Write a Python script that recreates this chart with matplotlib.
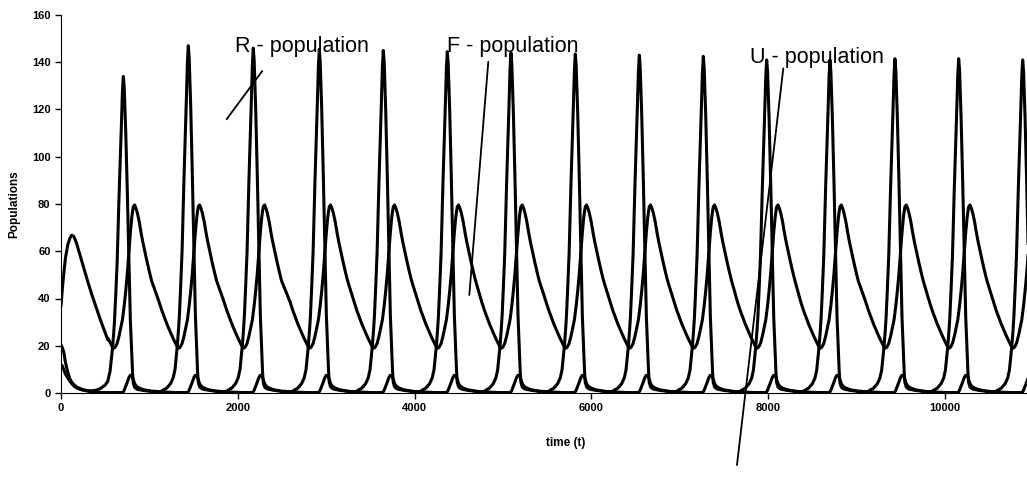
import matplotlib.pyplot as plt
import numpy as np


plt.rc('font', family=['Liberation Sans', 'DejaVu Sans'])

# start of the run, before the first regular cycle (time, value)
t_start = [0, 15, 30, 50, 75, 100, 121, 145, 175, 210, 250, 300, 350, 400, 450, 500, 530]
r_start = [20.3, 19.2, 17.5, 13, 9, 6, 4.6, 3.6, 2.6, 2.0, 1.4, 1.0, 0.9, 1.2, 2.0, 3.4, 5.0]
f_start = [37, 44, 50, 57, 62.5, 65.5, 66.8, 66.3, 63.5, 59, 54, 47.5, 41.5, 36, 30.5, 25.5, 22.5]
u_start = [12, 11.5, 10, 8, 6.5, 5, 4, 3, 2.2, 1.6, 1.2, 0.8, 0.5, 0.35, 0.25, 0.2, 0.2]

# one regular cycle, time relative to the R peak
cycle_dt = [-330, -300, -240, -200, -170, -150, -135, -124, -110, -100, -86, -70, -49, -35,
            -23, -10, 0, 10, 27, 45, 58, 68, 80, 95, 105, 113, 128, 145, 160, 180, 200,
            220, 240, 272, 300, 320]
r_cycle = [0.5, 0.8, 2.2, 4, 6.5, 10, 16, 20, 27, 33, 45, 60, 90, 107,
           122, 139, 146, 141, 121, 93, 70, 51, 33, 18, 9, 4.5, 2.6, 2.0, 1.7, 1.5, 1.4,
           1.2, 1.1, 0.9, 0.8, 0.6]
f_cycle = [38.5, 35, 29, 25.5, 23, 21.5, 20.3, 19.5, 19, 19.1, 19.8, 21, 24, 26.5,
           28.5, 31, 34, 37, 43, 50.5, 57, 62, 68, 74, 77, 78.8, 79.6, 78, 76, 72.5, 68,
           64, 60.5, 55, 50.5, 47.5]
u_cycle = [0.55, 0.5, 0.4, 0.3, 0.25, 0.2, 0.2, 0.2, 0.2, 0.2, 0.2, 0.2, 0.2, 0.2,
           0.2, 0.2, 0.5, 1.2, 2.8, 4.6, 6, 6.9, 7.5, 7.4, 6.6, 5.6, 4, 3, 2.5, 2.1, 1.8,
           1.5, 1.3, 1.1, 0.9, 0.8]

# times and heights of the R spikes
r_peak_t = [705, 1440, 2175, 2922, 3646, 4370, 5090, 5818, 6542, 7266, 7983, 8699, 9434, 10155, 10879]
r_peak_v = [134, 147, 146, 145.5, 145, 144.5, 144, 143.5, 143, 142.5, 141, 141, 141.5, 141.5, 141]

x_ticks = [0, 2000, 4000, 6000, 8000, 10000]
y_ticks = [0, 20, 40, 60, 80, 100, 120, 140, 160]

# label text, text position, pointer start, pointer end
labels = [('R - population', (1968, 146.5), (2277, 136.3), (1874, 115.9)),
          ('F - population', (4366, 146.5), (4834, 140.2), (4619, 41.5)),
          ('U - population', (7794, 141.8), (8171, 137.4), (7647, -30.5))]


def build_series(start_vals, cycle_vals, peaks=None):
    t = list(t_start)
    y = list(start_vals)
    dt = np.array(cycle_dt, dtype=float)
    vals = np.array(cycle_vals, dtype=float)
    mids = [(a + b) / 2 for a, b in zip(r_peak_t[:-1], r_peak_t[1:])]
    lo = [t_start[-1] + 1] + mids
    hi = mids + [np.inf]
    for k, tp in enumerate(r_peak_t):
        tk = tp + dt
        vk = vals * (peaks[k] / vals.max()) if peaks is not None else vals
        keep = (tk >= lo[k]) & (tk < hi[k])
        t.extend(tk[keep])
        y.extend(vk[keep])
    return np.array(t), np.array(y)


fig = plt.figure(figsize=(10.27, 4.99), dpi=100)
ax = fig.add_axes([61 / 1027, 106 / 499, 966 / 1027, 378 / 499])

for start_vals, cycle_vals, peaks in [(f_start, f_cycle, None),
                                      (r_start, r_cycle, r_peak_v),
                                      (u_start, u_cycle, None)]:
    t, y = build_series(start_vals, cycle_vals, peaks)
    ax.plot(t, y, color='black', lw=2.2, solid_joinstyle='round')

for text, pos, p0, p1 in labels:
    ax.text(pos[0], pos[1], text, fontsize=15.5, va='center', ha='left')
    ax.annotate('', xy=p1, xytext=p0, annotation_clip=False,
                arrowprops=dict(arrowstyle='-', color='black', lw=1.3, shrinkA=0, shrinkB=0))

ax.set_xlim(0, 10928)
ax.set_ylim(0, 160)
ax.set_xticks(x_ticks)
ax.set_yticks(y_ticks)
ax.spines['top'].set_visible(False)
ax.spines['right'].set_visible(False)
ax.tick_params(direction='out', length=4, width=1, labelsize=8)
for lab in ax.get_xticklabels() + ax.get_yticklabels():
    lab.set_fontweight('bold')

ax.set_xlabel('time (t)', fontsize=8.5, fontweight='bold')
ax.set_ylabel('Populations', fontsize=8.5, fontweight='bold')
ax.xaxis.set_label_coords(0.522, -0.116)
ax.yaxis.set_label_coords(-0.042, 0.5)

fig.savefig('out.png', dpi=100)
